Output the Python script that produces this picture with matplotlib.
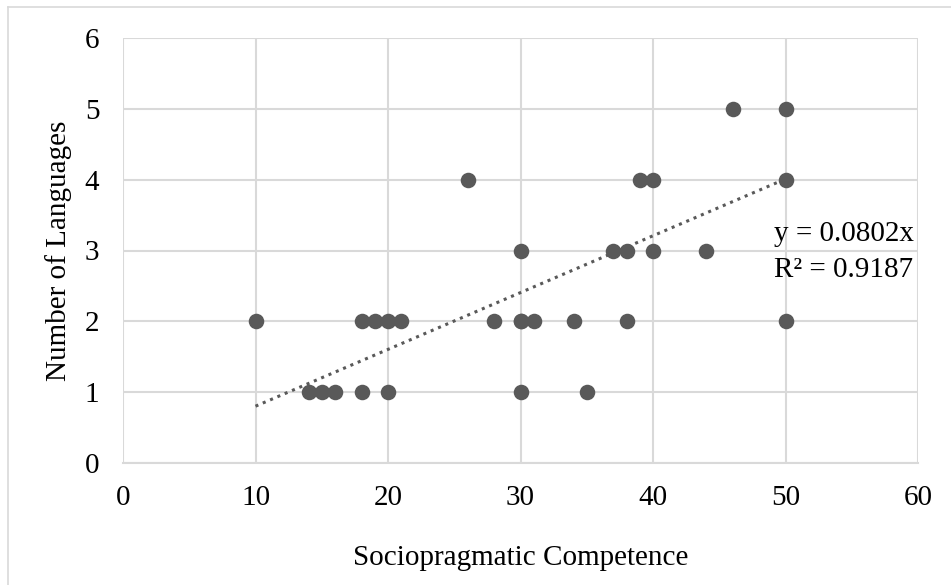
import numpy as np
from matplotlib import pyplot as plt
from matplotlib.lines import Line2D

# Sociopragmatic competence scores and number of languages spoken
competence = [10, 18, 19, 20, 21, 28, 30, 30, 31, 34, 38, 50,
              14, 15, 16, 18, 20, 30, 35,
              30, 37, 38, 40, 44,
              26, 39, 40, 50,
              46, 50]
languages = [2, 2, 2, 2, 2, 2, 2, 2, 2, 2, 2, 2,
             1, 1, 1, 1, 1, 1, 1,
             3, 3, 3, 3, 3,
             4, 4, 4, 4,
             5, 5]
slope = 0.0802
r_squared = 0.9187
trend_x = [10, 50]

plt.rcParams['font.family'] = ['Liberation Serif', 'DejaVu Serif']
fs = 21

fig = plt.figure(figsize=(9.51, 5.85), dpi=100)
ax = fig.add_axes([123 / 951, 1 - 463 / 585, (918 - 123) / 951, (463 - 38) / 585])

grey = '#595959'
ax.scatter(competence, languages, s=125, color=grey, zorder=3, linewidths=0)
tx = np.array(trend_x)
ax.plot(tx, slope * tx, linestyle=(0, (1, 1.6)), color=grey, linewidth=2.2, zorder=2)

ax.text(49.1, 3.23, f'y = {slope}x', fontsize=fs, va='center', ha='left')
ax.text(49.1, 2.73, f'R² = {r_squared}', fontsize=fs, va='center', ha='left')

ax.set_xlim(0, 60)
ax.set_ylim(0, 6)
ax.set_xticks(range(0, 61, 10))
ax.set_yticks(range(0, 7))
ax.grid(True, color='#d9d9d9', linewidth=1.5)
ax.set_axisbelow(True)
for side in ['top', 'right', 'left']:
    ax.spines[side].set_visible(False)
ax.spines['bottom'].set_color('#d9d9d9')
ax.spines['bottom'].set_linewidth(1.5)
ax.tick_params(length=0, labelsize=fs)
ax.tick_params(axis='x', pad=16)
ax.tick_params(axis='y', pad=17)

ax.set_xlabel('Sociopragmatic Competence', fontsize=fs, labelpad=24)
ax.set_ylabel('Number of Languages', fontsize=fs, labelpad=9)

# chart frame (only top and left edges visible in the crop)
fig.add_artist(Line2D([8 / 951, 8 / 951], [0, 1 - 7 / 585], transform=fig.transFigure,
                      color='#d9d9d9', linewidth=1.2))
fig.add_artist(Line2D([8 / 951, 1], [1 - 7 / 585, 1 - 7 / 585], transform=fig.transFigure,
                      color='#d9d9d9', linewidth=1.2))

fig.savefig('out.png', dpi=100)
